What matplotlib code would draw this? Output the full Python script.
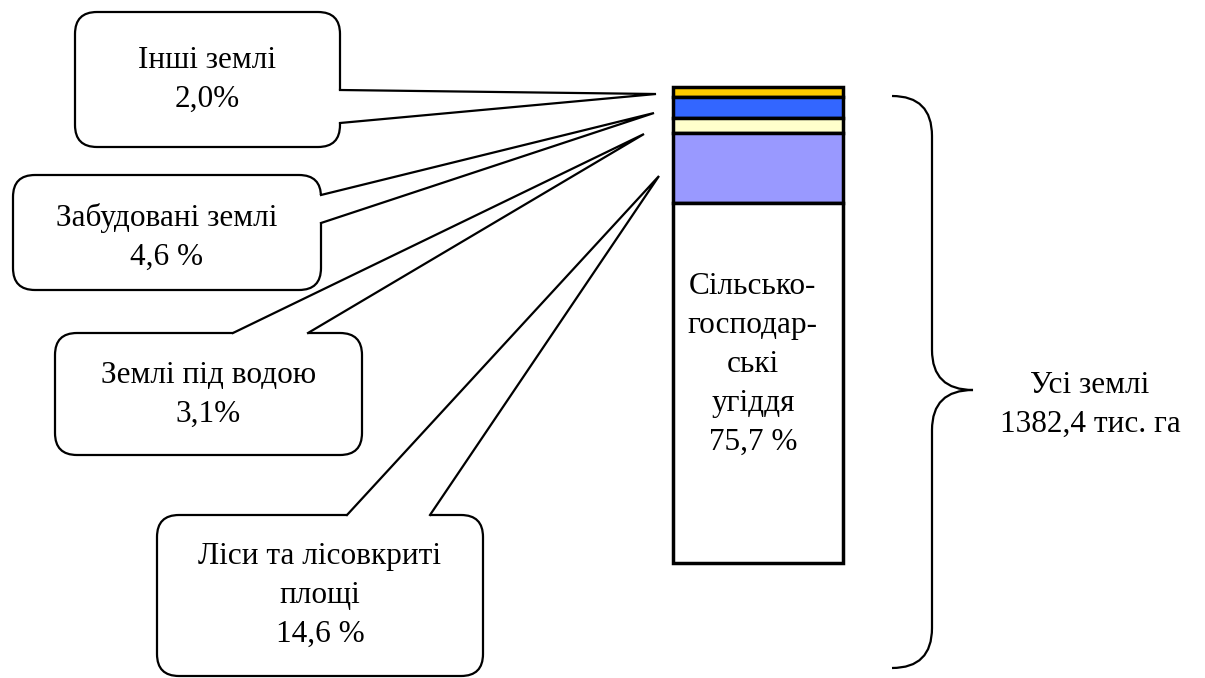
import matplotlib.pyplot as plt
from matplotlib.patches import FancyBboxPatch, Polygon, PathPatch
from matplotlib.path import Path

# land structure, %, from top of the bar to the bottom
categories = ["Інші землі", "Забудовані землі", "Землі під водою",
              "Ліси та лісовкриті площі", "Сільськогосподарські угіддя"]
shares = [2.0, 4.6, 3.1, 14.6, 75.7]
colors = ["#FFCC00", "#3366FF", "#FFFFCC", "#9999FF", "#FFFFFF"]

callout_texts = ["Інші землі\n2,0%", "Забудовані землі\n4,6 %",
                 "Землі під водою\n3,1%", "Ліси та лісовкриті\nплощі\n14,6 %"]
bar_text = "Сільсько-\nгосподар-\nські\nугіддя\n75,7 %"
total_text = "Усі землі\n1382,4 тис. га"

W, H = 1205, 678
plt.rcParams['font.family'] = ['Liberation Serif', 'DejaVu Serif']
FS = 22.5
LS = 1.45

fig = plt.figure(figsize=(W / 100, H / 100), dpi=100)
ax = fig.add_axes([0, 0, 1, 1])
ax.set_xlim(0, W)
ax.set_ylim(H, 0)
ax.axis('off')

# stacked bar in its own axes (percent scale, 0 at top)
bx0, bx1, by0, by1 = 673, 843, 87, 563
bax = fig.add_axes([bx0 / W, 1 - by1 / H, (bx1 - bx0) / W, (by1 - by0) / H])
bottom = 0
for val, col in zip(shares, colors):
    bax.bar(0, val, bottom=bottom, width=1, color=col, edgecolor='black',
            linewidth=2.5, clip_on=False)
    bottom += val
bax.set_xlim(-0.5, 0.5)
bax.set_ylim(100, 0)
bax.axis('off')
bax.text(-0.03, sum(shares[:4]) + 34, bar_text, ha='center', va='center',
         fontsize=FS, linespacing=LS)

# callouts: box (x0, y0, x1, y1), tail base points, tail tip
boxes = [
    ((75, 12, 340, 147), ((340, 90), (340, 123)), (656, 94)),
    ((13, 175, 321, 290), ((321, 195), (321, 223)), (654, 113)),
    ((55, 333, 362, 455), ((233, 333), (308, 333)), (644, 134)),
    ((157, 515, 483, 676), ((347, 515), (430, 515)), (659, 176)),
]
text_shift = [0, 5, 1, 0]

for (x0, y0, x1, y1), (b1, b2), tip in boxes:
    r = 22
    box = FancyBboxPatch((x0 + r, y0 + r), x1 - x0 - 2 * r, y1 - y0 - 2 * r,
                         boxstyle=f"round,pad={r},rounding_size={r}",
                         facecolor='white', edgecolor='black', linewidth=1.6,
                         zorder=2)
    ax.add_patch(box)
    # push base points slightly inside the box to hide the box edge under the tail
    if b1[0] == b2[0]:
        i1, i2 = (b1[0] - 3, b1[1]), (b2[0] - 3, b2[1])
    else:
        i1, i2 = (b1[0], b1[1] + 3), (b2[0], b2[1] + 3)
    ax.add_patch(Polygon([i1, b1, tip, b2, i2], closed=True, facecolor='white',
                         edgecolor='none', zorder=3))
    ax.plot([b1[0], tip[0], b2[0]], [b1[1], tip[1], b2[1]], color='black',
            linewidth=1.6, zorder=4, solid_joinstyle='miter')

for ((x0, y0, x1, y1), _, _), txt, dy in zip(boxes, callout_texts, text_shift):
    ax.text((x0 + x1) / 2, (y0 + y1) / 2 + dy, txt, ha='center', va='center',
            fontsize=FS, linespacing=LS, zorder=5)

# curly brace for the whole area
verts = [(892, 96), (932, 96), (932, 136), (932, 350), (932, 390), (973, 390),
         (932, 390), (932, 430), (932, 628), (932, 668), (892, 668)]
codes = [Path.MOVETO, Path.CURVE3, Path.CURVE3, Path.LINETO, Path.CURVE3,
         Path.CURVE3, Path.CURVE3, Path.CURVE3, Path.LINETO, Path.CURVE3,
         Path.CURVE3]
ax.add_patch(PathPatch(Path(verts, codes), facecolor='none', edgecolor='black',
                       linewidth=1.6))
ax.text(1090, 405, total_text, ha='center', va='center', fontsize=FS,
        linespacing=LS)

fig.savefig("out.png", dpi=100)
